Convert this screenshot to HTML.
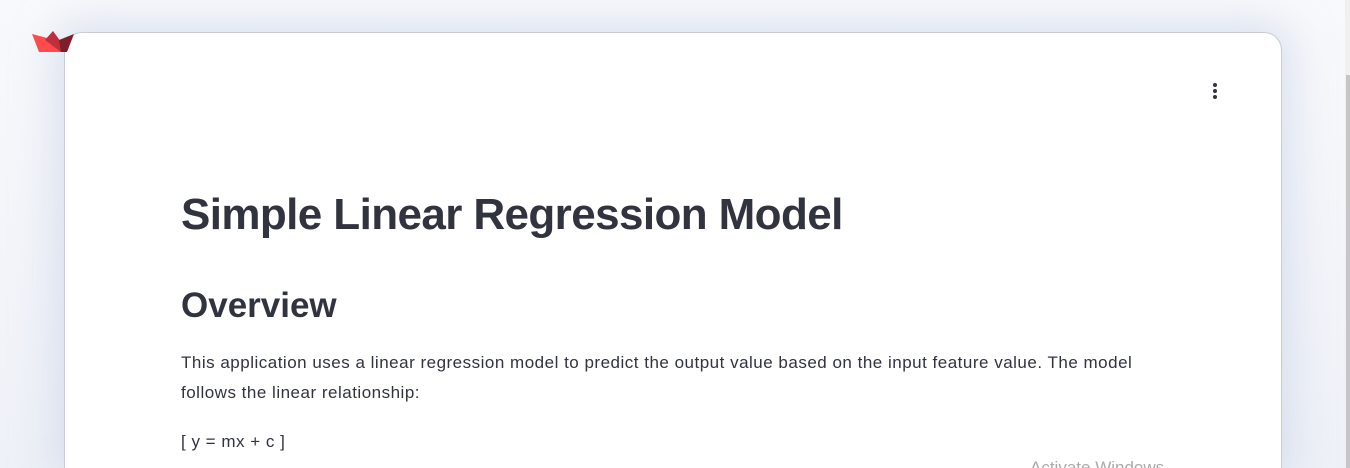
<!DOCTYPE html>
<html><head><meta charset="utf-8"><style>
html,body{margin:0;padding:0;width:1350px;height:468px;overflow:hidden;background:#f7f8fb;font-family:"Liberation Sans","DejaVu Sans",sans-serif;}
.root{position:relative;width:1350px;height:468px;overflow:hidden;}
.bg{position:absolute;left:0;top:0;width:1345px;height:468px;background:linear-gradient(180deg,#f8f9fc,#eef1f7);}
.card{position:absolute;left:64px;top:32px;width:1216px;height:436px;background:#fff;border:1px solid #c9ccd3;border-bottom:none;border-radius:18px 18px 0 0;box-shadow:0 0 40px 10px rgba(200,210,230,0.6);}
.scroll{position:absolute;left:1345px;top:0;width:5px;height:468px;background:#f0f0f0;}
.thumb{position:absolute;left:1346px;top:75px;width:4px;height:393px;background:#c6c6c6;}
h1{position:absolute;left:116px;top:157px;margin:0;font-size:44px;font-weight:bold;color:#31333f;letter-spacing:-0.6px;white-space:nowrap;}
h2{position:absolute;left:116px;top:253px;margin:0;font-size:35px;font-weight:bold;color:#31333f;}
p{position:absolute;left:116px;margin:0;font-size:17px;line-height:30px;color:#31333f;width:990px;letter-spacing:0.5px;}
.menu{position:absolute;left:1144px;top:50px;width:12px;height:20px;}
.menu i{display:block;width:4px;height:4px;border-radius:2px;background:#31333f;margin:0 auto 2px;}
.wm{position:absolute;left:1030px;top:458px;font-size:17px;color:#aaa;white-space:nowrap;}
</style></head><body>
<div class="root">
<div class="bg"></div>
<div class="card">
<div class="menu"><i></i><i></i><i></i></div>
<h1>Simple Linear Regression Model</h1>
<h2>Overview</h2>
<p style="top:315px">This application uses a linear regression model to predict the output value based on the input feature value. The model follows the linear relationship:</p>
<p style="top:394px">[ y = mx + c ]</p>
</div>
<div class="wm">Activate Windows</div>
<svg style="position:absolute;left:31px;top:30px" width="45" height="24">
<polygon points="1,4 20,9 30,22 8,22" fill="#ff4b4b"/>
<polygon points="14,10 22,1 30,12 30,22" fill="#bd2f3c"/>
<polygon points="28,10 43,4 36,22 30,22" fill="#7d1f2a"/>
</svg>
<div class="scroll"></div>
<div class="thumb"></div>
</div>
</body></html>
